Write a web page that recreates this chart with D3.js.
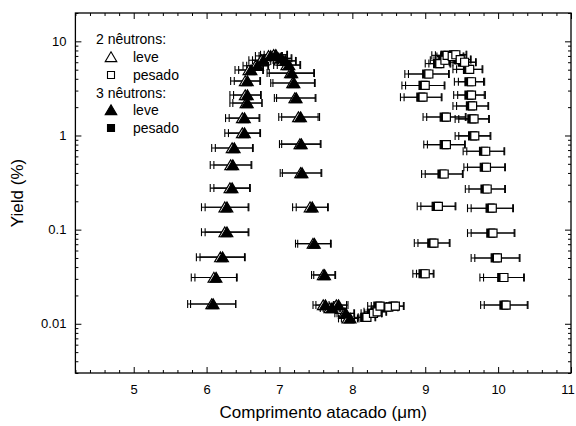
<!DOCTYPE html>
<html>
<head>
<meta charset="utf-8">
<script src="https://cdn.jsdelivr.net/npm/d3@7"></script>
<style>
  html, body { margin: 0; padding: 0; background: #fff; }
  svg { display: block; font-family: "Liberation Sans", Arial, Helvetica, sans-serif; }
</style>
</head>
<body>
<svg id="chart" width="576" height="426"></svg>
<script>
// Light fragment (triangles): 3-neutron values, 2-neutron values, half-width of length uncertainty (µm)
const leveY = [4.96, 3.79, 2.69, 2.21, 1.53, 1.06, 0.735, 0.485, 0.276, 0.173, 0.094, 0.051, 0.031, 0.0162,
  5.5, 6.3, 7.0, 7.2, 6.6, 6.2, 5.6,
  4.60, 3.61, 2.50, 1.57, 0.81, 0.40, 0.173, 0.071, 0.033,
  0.0158, 0.0147, 0.0158, 0.0129, 0.0114];
const leve3X = [6.61, 6.56, 6.56, 6.56, 6.52, 6.52, 6.38, 6.36, 6.35, 6.28, 6.28, 6.22, 6.13, 6.09,
  6.70, 6.78, 6.88, 6.95, 7.02, 7.08, 7.13,
  7.17, 7.20, 7.23, 7.29, 7.30, 7.31, 7.45, 7.48, 7.62,
  7.63, 7.72, 7.81, 7.91, 7.97];
const leve2X = [6.58, 6.53, 6.53, 6.54, 6.49, 6.49, 6.35, 6.33, 6.32, 6.25, 6.25, 6.19, 6.10, 6.07,
  6.67, 6.75, 6.85, 6.92, 6.99, 7.05, 7.10,
  7.15, 7.18, 7.21, 7.26, 7.28, 7.29, 7.42, 7.46, 7.60,
  7.60, 7.69, 7.78, 7.89, 7.94];
const leve3Err = [0.17, 0.18, 0.19, 0.20, 0.21, 0.22, 0.26, 0.26, 0.25, 0.30, 0.30, 0.31, 0.29, 0.31,
  0.15, 0.15, 0.16, 0.16, 0.15, 0.15, 0.16,
  0.31, 0.29, 0.27, 0.26, 0.27, 0.27, 0.22, 0.23, 0.15,
  0.13, 0.12, 0.13, 0.12, 0.12];
const leve2Err = [0.19, 0.20, 0.21, 0.22, 0.23, 0.24, 0.28, 0.28, 0.27, 0.32, 0.32, 0.33, 0.31, 0.33,
  0.17, 0.17, 0.18, 0.18, 0.17, 0.17, 0.18,
  0.32, 0.30, 0.28, 0.27, 0.28, 0.28, 0.24, 0.24, 0.16,
  0.14, 0.13, 0.14, 0.13, 0.13];

// Heavy fragment (squares)
const pesadoY = [5.04, 3.72, 2.69, 2.06, 1.50, 0.99, 0.68, 0.46, 0.27, 0.169, 0.092, 0.050, 0.031, 0.0158,
  5.8, 6.3, 7.1, 6.9, 7.2, 6.4, 6.0,
  4.50, 3.40, 2.55, 1.57, 0.80, 0.39, 0.177, 0.072, 0.034,
  0.0117, 0.0129, 0.0134, 0.0154, 0.0150, 0.0154];
const pesado2X = [9.61, 9.635, 9.635, 9.65, 9.67, 9.68, 9.83, 9.84, 9.85, 9.92, 9.93, 9.99, 10.08, 10.11,
  9.20, 9.27, 9.30, 9.37, 9.42, 9.48, 9.54,
  9.05, 9.00, 8.97, 9.29, 9.29, 9.26, 9.18, 9.12, 9.00,
  8.20, 8.29, 8.34, 8.38, 8.50, 8.59];
const pesado3X = [9.58, 9.60, 9.60, 9.62, 9.64, 9.65, 9.80, 9.81, 9.82, 9.89, 9.90, 9.96, 10.05, 10.08,
  9.17, 9.24, 9.27, 9.34, 9.39, 9.45, 9.51,
  9.02, 8.97, 8.94, 9.26, 9.26, 9.23, 9.15, 9.09, 8.97,
  8.17, 8.26, 8.31, 8.35, 8.47, 8.56];
const pesado2Err = [0.18, 0.18, 0.19, 0.22, 0.21, 0.22, 0.26, 0.26, 0.25, 0.29, 0.30, 0.31, 0.28, 0.30,
  0.15, 0.15, 0.16, 0.16, 0.15, 0.15, 0.16,
  0.28, 0.27, 0.26, 0.27, 0.26, 0.26, 0.24, 0.22, 0.12,
  0.12, 0.12, 0.13, 0.12, 0.13, 0.12];
const pesado3Err = [0.20, 0.20, 0.21, 0.24, 0.23, 0.24, 0.28, 0.28, 0.27, 0.31, 0.32, 0.33, 0.30, 0.32,
  0.17, 0.17, 0.18, 0.18, 0.17, 0.17, 0.18,
  0.30, 0.29, 0.28, 0.29, 0.28, 0.28, 0.26, 0.24, 0.14,
  0.14, 0.14, 0.15, 0.14, 0.15, 0.14];

const xTicks = [5, 6, 7, 8, 9, 10, 11];
const yTicks = [0.01, 0.1, 1, 10];
const yTickLabels = ["0.01", "0.1", "1", "10"];
const xTitle = "Comprimento atacado (\u03BCm)";
const yTitle = "Yield (%)";
const legendGroups = ["2 n\u00EAutrons:", "3 n\u00EAutrons:"];
const legendItems = ["leve", "pesado"];

const svg = d3.select("#chart");
const L = 75.4, R = 571, T = 13, B = 373;

const x = d3.scaleLinear().domain([4.2, 11]).range([L, R]);
const y = d3.scaleLog().domain([0.003, 20]).range([B, T]);

// minor tick positions
const xMinor = d3.range(42, 111, 2).map(v => v / 10).filter(v => !xTicks.includes(v));
const yMinor = [];
[0.001, 0.01, 0.1, 1, 10].forEach(d => {
  for (let k = 2; k <= 9; k++) {
    const v = +(d * k).toPrecision(3);
    if (v >= 0.003 && v <= 20) yMinor.push(v);
  }
});

const axisG = svg.append("g").attr("class", "axes");
function styleAxis(g) {
  g.select(".domain").remove();
  g.selectAll("line").attr("stroke", "#000").attr("stroke-width", 1);
  g.selectAll("text").attr("fill", "#000").attr("font-size", 13);
}

// bottom
const xAxisG = axisG.append("g").attr("transform", `translate(0,${B})`)
  .call(d3.axisBottom(x).tickValues(xTicks).tickSizeInner(-6).tickSizeOuter(0).tickPadding(12).tickFormat(d3.format("d")))
  .call(styleAxis);
// last label sits against the right edge of the page
xAxisG.selectAll(".tick text").filter(d => d === 11).attr("dx", -3.5);
axisG.append("g").attr("transform", `translate(0,${B})`)
  .call(d3.axisBottom(x).tickValues(xMinor).tickSizeInner(-3).tickSizeOuter(0).tickFormat(""))
  .call(styleAxis);
// top
axisG.append("g").attr("transform", `translate(0,${T})`)
  .call(d3.axisTop(x).tickValues(xTicks).tickSizeInner(-6).tickSizeOuter(0).tickFormat(""))
  .call(styleAxis);
axisG.append("g").attr("transform", `translate(0,${T})`)
  .call(d3.axisTop(x).tickValues(xMinor).tickSizeInner(-3).tickSizeOuter(0).tickFormat(""))
  .call(styleAxis);
// left
axisG.append("g").attr("transform", `translate(${L},0)`)
  .call(d3.axisLeft(y).tickValues(yTicks).tickSizeInner(-6).tickSizeOuter(0).tickPadding(9)
    .tickFormat((d, i) => yTickLabels[i]))
  .call(styleAxis);
axisG.append("g").attr("transform", `translate(${L},0)`)
  .call(d3.axisLeft(y).tickValues(yMinor).tickSizeInner(-3).tickSizeOuter(0).tickFormat(""))
  .call(styleAxis);
// right
axisG.append("g").attr("transform", `translate(${R},0)`)
  .call(d3.axisRight(y).tickValues(yTicks).tickSizeInner(-6).tickSizeOuter(0).tickFormat(""))
  .call(styleAxis);
axisG.append("g").attr("transform", `translate(${R},0)`)
  .call(d3.axisRight(y).tickValues(yMinor).tickSizeInner(-3).tickSizeOuter(0).tickFormat(""))
  .call(styleAxis);

// frame
svg.append("rect").attr("x", L).attr("y", T).attr("width", R - L).attr("height", B - T)
  .attr("fill", "none").attr("stroke", "#000").attr("stroke-width", 1.3);

// axis titles
svg.append("text").attr("x", (L + R) / 2).attr("y", 418).attr("text-anchor", "middle")
  .attr("font-size", 17).text(xTitle);
svg.append("text").attr("transform", `translate(23,${(T + B) / 2}) rotate(-90)`)
  .attr("text-anchor", "middle").attr("font-size", 17).text(yTitle);

// series
const series = {
  leve2: leveY.map((v, i) => ({ x: leve2X[i], y: v, e: leve2Err[i] })),
  leve3: leveY.map((v, i) => ({ x: leve3X[i], y: v, e: leve3Err[i] })),
  pesado2: pesadoY.map((v, i) => ({ x: pesado2X[i], y: v, e: pesado2Err[i] })),
  pesado3: pesadoY.map((v, i) => ({ x: pesado3X[i], y: v, e: pesado3Err[i] }))
};

const plot = svg.append("g");
const cap = 4;
function errorBars(data) {
  const g = plot.append("g").attr("stroke", "#000").attr("stroke-width", 1.1);
  const row = g.selectAll("g").data(data).join("g");
  row.append("line")
    .attr("x1", d => x(d.x - d.e)).attr("x2", d => x(d.x + d.e))
    .attr("y1", d => y(d.y)).attr("y2", d => y(d.y));
  row.append("line")
    .attr("x1", d => x(d.x - d.e)).attr("x2", d => x(d.x - d.e))
    .attr("y1", d => y(d.y) - cap).attr("y2", d => y(d.y) + cap);
  row.append("line")
    .attr("x1", d => x(d.x + d.e)).attr("x2", d => x(d.x + d.e))
    .attr("y1", d => y(d.y) - cap).attr("y2", d => y(d.y) + cap);
}
errorBars(series.leve2);
errorBars(series.leve3);
errorBars(series.pesado3);
errorBars(series.pesado2);

const triPath = "M0,-5.2L5.8,4.6L-5.8,4.6Z";
const sqPath = "M-4,-4H4V4H-4Z";

function markers(data, path, fill) {
  plot.append("g").selectAll("path").data(data).join("path")
    .attr("d", path)
    .attr("transform", d => `translate(${x(d.x)},${y(d.y)})`)
    .attr("fill", fill).attr("stroke", "#000").attr("stroke-width", 1.2);
}
markers(series.leve2, triPath, "#fff");
markers(series.leve3, triPath, "#000");
markers(series.pesado3, sqPath, "#000");
markers(series.pesado2, sqPath, "#fff");

// legend
const lg = svg.append("g").attr("font-size", 14).attr("fill", "#000");
const legendRows = [
  { t: legendGroups[0], y: 44 },
  { t: legendItems[0], y: 62, sym: triPath, fill: "#fff" },
  { t: legendItems[1], y: 80, sym: "M-3.5,-3.5H3.5V3.5H-3.5Z", fill: "#fff" },
  { t: legendGroups[1], y: 98 },
  { t: legendItems[0], y: 115, sym: triPath, fill: "#000" },
  { t: legendItems[1], y: 133, sym: "M-3.5,-3.5H3.5V3.5H-3.5Z", fill: "#000" }
];
legendRows.forEach(r => {
  if (r.sym) {
    lg.append("path").attr("d", r.sym)
      .attr("transform", `translate(111,${r.y - 5})`)
      .attr("fill", r.fill).attr("stroke", "#000").attr("stroke-width", 1.1);
    lg.append("text").attr("x", 133).attr("y", r.y).text(r.t);
  } else {
    lg.append("text").attr("x", 96).attr("y", r.y).text(r.t);
  }
});
</script>
</body>
</html>
